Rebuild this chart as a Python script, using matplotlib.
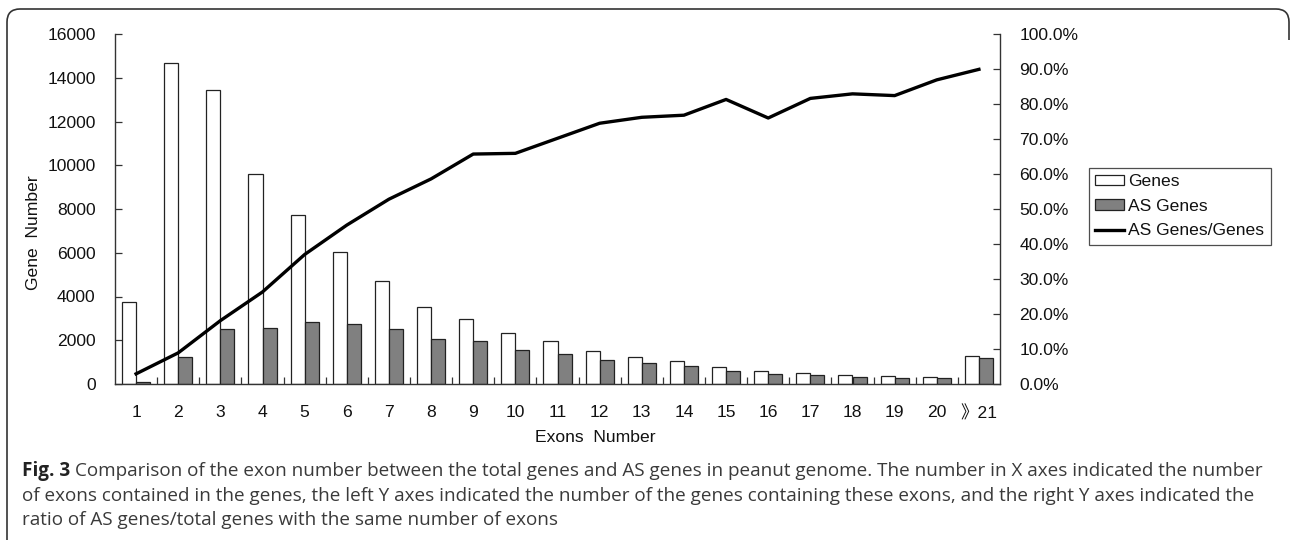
import matplotlib
matplotlib.use("Agg")
import matplotlib.pyplot as plt
from matplotlib.patches import Patch
from matplotlib.lines import Line2D
from matplotlib.path import Path
from matplotlib.patches import PathPatch
import numpy as np

# ---- data ----
exon_labels = ["1", "2", "3", "4", "5", "6", "7", "8", "9", "10", "11", "12",
               "13", "14", "15", "16", "17", "18", "19", "20", "\u300b21"]
genes = [3730, 14690, 13425, 9585, 7710, 6020, 4690, 3520, 2990, 2315, 1980,
         1525, 1250, 1065, 760, 610, 500, 425, 365, 335, 1265]
as_genes = [100, 1250, 2530, 2575, 2835, 2730, 2530, 2070, 1980, 1555, 1370,
            1100, 960, 810, 610, 455, 410, 320, 290, 290, 1175]
ratio_pct = [2.9, 8.9, 18.1, 26.3, 37.0, 45.4, 52.8, 58.6, 65.7, 65.9, 70.2,
             74.5, 76.2, 76.8, 81.3, 76.0, 81.6, 82.9, 82.4, 86.9, 89.9]
left_ticks = [0, 2000, 4000, 6000, 8000, 10000, 12000, 14000, 16000]
right_ticks = [0, 10, 20, 30, 40, 50, 60, 70, 80, 90, 100]

W, H = 1290, 540
FS = 12.6
plt.rcParams['font.family'] = ['Liberation Sans', 'Noto Sans CJK SC', 'DejaVu Sans']
fig = plt.figure(figsize=(W / 100, H / 100), dpi=100)
fig.patch.set_facecolor("white")

ax_l, ax_r, ax_t, ax_b = 115, 1000, 34, 384
ax = fig.add_axes([ax_l / W, 1 - ax_b / H, (ax_r - ax_l) / W, (ax_b - ax_t) / H])
x = np.arange(len(genes))
bw = 1 / 3
ax.bar(x - bw / 2, genes, width=bw, color="white", edgecolor="#222222", linewidth=0.9, zorder=2)
ax.bar(x + bw / 2, as_genes, width=bw, color="#808080", edgecolor="#222222", linewidth=0.9, zorder=2)
ax.set_xlim(-0.5, len(genes) - 0.5)
ax.set_ylim(0, 16000)
ax.set_yticks(left_ticks)
ax.set_yticklabels([str(v) for v in left_ticks])
ax.set_xticks(x)
ax.set_xticklabels(exon_labels)
ax.set_xticks(np.arange(len(genes) - 1) + 0.5, minor=True)
ax.tick_params(axis="x", which="major", length=0, pad=15, labelsize=FS, colors="#111111")
ax.tick_params(axis="x", which="minor", direction="in", length=5, width=0.9, color="#333333")
ax.tick_params(axis="y", direction="in", length=5, width=0.9, pad=14, labelsize=FS, color="#333333",
               labelcolor="#111111")
for s in ["top", "right"]:
    ax.spines[s].set_visible(False)
for s in ["left", "bottom"]:
    ax.spines[s].set_color("#333333")
    ax.spines[s].set_linewidth(1.0)

ax2 = ax.twinx()
ax2.plot(x, ratio_pct, color="black", linewidth=2.4, zorder=3)
ax2.set_ylim(0, 100)
ax2.set_yticks(right_ticks)
ax2.set_yticklabels([f"{v:.1f}%" for v in right_ticks])
ax2.tick_params(axis="y", direction="in", length=5, width=0.9, pad=14, labelsize=FS, color="#333333",
                labelcolor="#111111")
for s in ["top", "left", "bottom"]:
    ax2.spines[s].set_visible(False)
ax2.spines["right"].set_color("#333333")
ax2.spines["right"].set_linewidth(1.0)

fig.text(33 / W, 1 - 233 / H, "Gene  Number", rotation=90, ha="center", va="center", fontsize=FS,
         color="#111111")
fig.text(595 / W, 1 - 437 / H, "Exons  Number", ha="center", va="center", fontsize=FS, color="#111111")

handles = [Patch(facecolor="white", edgecolor="#222222", linewidth=0.9),
           Patch(facecolor="#808080", edgecolor="#222222", linewidth=0.9),
           Line2D([0], [0], color="black", linewidth=2.4)]
leg = fig.legend(handles, ["Genes", "AS Genes", "AS Genes/Genes"], loc="upper left",
                 bbox_to_anchor=(1089 / W, 1 - 168 / H), fontsize=FS, frameon=True,
                 fancybox=False, edgecolor="#222222", borderpad=0.35, labelspacing=0.55,
                 handlelength=1.65, handleheight=0.55, handletextpad=0.25, borderaxespad=0)
leg.get_frame().set_linewidth(0.9)
for t in leg.get_texts():
    t.set_color("#111111")

# caption
cap_font = ['Open Sans', 'DejaVu Sans']
cap_size = 13.6
lines = ["Comparison of the exon number between the total genes and AS genes in peanut genome. The number in X axes indicated the number",
         "of exons contained in the genes, the left Y axes indicated the number of the genes containing these exons, and the right Y axes indicated the",
         "ratio of AS genes/total genes with the same number of exons"]
ys = [471, 496, 520]
t0 = fig.text(22 / W, 1 - ys[0] / H, "Fig. 3", fontsize=cap_size, family=cap_font, weight="bold",
              color="#222222", va="center", ha="left")
fig.canvas.draw()
bb = t0.get_window_extent(renderer=fig.canvas.get_renderer())
fig.text((bb.x1 + 5) / W, 1 - ys[0] / H, lines[0], fontsize=cap_size, family=cap_font,
         color="#3a3a3a", va="center", ha="left")
for ln, yy in zip(lines[1:], ys[1:]):
    fig.text(22 / W, 1 - yy / H, ln, fontsize=cap_size, family=cap_font, color="#3a3a3a",
             va="center", ha="left")

# frame
def fp(px, py):
    return (px / W, 1 - py / H)
r = 13
verts = [fp(7, 540), fp(7, 9 + r), fp(7, 9), fp(7 + r, 9), fp(1289 - r, 9), fp(1289, 9), fp(1289, 9 + r), fp(1289, 40)]
codes = [Path.MOVETO, Path.LINETO, Path.CURVE3, Path.CURVE3, Path.LINETO, Path.CURVE3, Path.CURVE3, Path.LINETO]
fig.patches.append(PathPatch(Path(verts, codes), transform=fig.transFigure, fill=False,
                             edgecolor="#333333", linewidth=1.2))

fig.savefig("out.png", dpi=100, facecolor="white")
